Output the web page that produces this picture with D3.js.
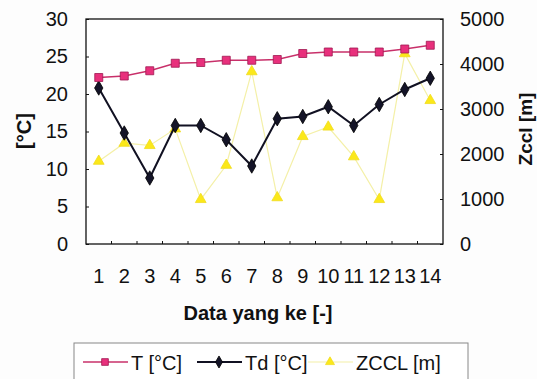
<!DOCTYPE html>
<html>
<head>
<meta charset="utf-8">
<script src="https://cdn.jsdelivr.net/npm/d3@7"></script>
<style>
  body { margin: 0; background: #fdfdfd; }
  svg { display: block; font-family: "Liberation Sans", Arial, sans-serif; }
  .axis path, .axis line { stroke: #111; }
  .axis text { font-size: 20px; fill: #111; }
</style>
</head>
<body>
<div id="display"></div>
<script>
// data
const categories = ['1','2','3','4','5','6','7','8','9','10','11','12','13','14'];
const tValues = [22.2, 22.4, 23.1, 24.1, 24.2, 24.5, 24.5, 24.6, 25.4, 25.6, 25.6, 25.6, 26.0, 26.5];
const tdValues = [20.8, 14.8, 8.8, 15.8, 15.8, 13.9, 10.4, 16.7, 17.0, 18.3, 15.8, 18.6, 20.6, 22.1];
const zcclValues = [1840, 2240, 2190, 2560, 990, 1750, 3830, 1030, 2390, 2600, 1940, 990, 4230, 3190];
const leftTicks = [0, 5, 10, 15, 20, 25, 30];
const rightTicks = [0, 1000, 2000, 3000, 4000, 5000];

const W = 537, H = 379;
const margin = {top: 19, right: 94, bottom: 135, left: 86};
const width = W - margin.left - margin.right;
const height = H - margin.top - margin.bottom;

const svg = d3.select('#display')
  .append('svg')
    .attr('width', W)
    .attr('height', H);

const g = svg.append('g')
  .attr('transform', 'translate(' + margin.left + ',' + margin.top + ')');

// scales
const x = d3.scaleBand().domain(categories).range([0, width]).padding(0);
const yL = d3.scaleLinear().domain([0, 30]).range([height, 0]);
const yR = d3.scaleLinear().domain([0, 5000]).range([height, 0]);
const cx = d => x(d) + x.bandwidth() / 2;

// frame
g.append('rect')
  .attr('width', width).attr('height', height)
  .attr('fill', '#fff').attr('stroke', '#111').attr('stroke-width', 1.3);

// left axis, ticks pointing in
g.append('g').attr('class', 'axis')
  .call(d3.axisLeft(yL).tickValues(leftTicks).tickSize(-3).tickPadding(18))
  .call(a => a.select('.domain').remove());

// right axis
g.append('g').attr('class', 'axis')
  .attr('transform', 'translate(' + width + ',0)')
  .call(d3.axisRight(yR).tickValues(rightTicks).tickSize(-3).tickPadding(17).tickFormat(d3.format('d')))
  .call(a => a.select('.domain').remove());

// bottom axis: labels centred, ticks on category boundaries
const xAxis = g.append('g').attr('class', 'axis')
  .attr('transform', 'translate(0,' + height + ')')
  .call(d3.axisBottom(x).tickSize(0).tickPadding(25));
xAxis.select('.domain').remove();
xAxis.selectAll('.bnd')
  .data(categories.slice(1))
  .join('line')
    .attr('x1', d => x(d)).attr('x2', d => x(d))
    .attr('y1', 0).attr('y2', -3)
    .attr('stroke', '#111');

// series
const series = [
  {name: 'T [°C]', values: tValues, y: yL, line: '#c8306a', width: 1.4, marker: 'square', fill: '#e8307c', mstroke: '#a01850'},
  {name: 'Td [°C]', values: tdValues, y: yL, line: '#111122', width: 2, marker: 'diamond', fill: '#141428', mstroke: '#000'},
  {name: 'ZCCL [m]', values: zcclValues, y: yR, line: '#f4f0a8', width: 1.2, marker: 'triangle', fill: '#fbe81a', mstroke: '#f0dc20'}
];
const symbolOf = {square: d3.symbolSquare, diamond: d3.symbolDiamond, triangle: d3.symbolTriangle};
const sizeOf = {square: 64, diamond: 60, triangle: 50};

// draw ZCCL first so the temperature lines sit on top
[series[2], series[1], series[0]].forEach(s => {
  const pts = categories.map((c, i) => [cx(c), s.y(s.values[i])]);
  g.append('path')
    .attr('d', d3.line()(pts))
    .attr('fill', 'none')
    .attr('stroke', s.line)
    .attr('stroke-width', s.width);
  g.append('g').selectAll('path')
    .data(pts)
    .join('path')
      .attr('transform', d => 'translate(' + d[0] + ',' + d[1] + ')')
      .attr('d', d3.symbol(symbolOf[s.marker], sizeOf[s.marker]))
      .attr('fill', s.fill)
      .attr('stroke', s.mstroke)
      .attr('stroke-width', 0.8);
});

// axis titles
svg.append('text')
  .attr('transform', 'translate(31,131) rotate(-90)')
  .attr('text-anchor', 'middle')
  .style('font-size', '20px').style('font-weight', 'bold').attr('fill', '#111')
  .text('[°C]');
svg.append('text')
  .attr('transform', 'translate(532,129) rotate(-90)')
  .attr('text-anchor', 'middle')
  .style('font-size', '19px').style('font-weight', 'bold').attr('fill', '#111')
  .text('Zccl [m]');
svg.append('text')
  .attr('x', 258).attr('y', 320)
  .attr('text-anchor', 'middle')
  .style('font-size', '20px').style('font-weight', 'bold').attr('fill', '#111')
  .text('Data yang ke [-]');

// legend
const legend = svg.append('g');
legend.append('rect')
  .attr('x', 74).attr('y', 343).attr('width', 394).attr('height', 50)
  .attr('fill', '#fff').attr('stroke', '#888').attr('stroke-width', 1);
const legX = [83, 197, 308];
series.forEach((s, i) => {
  const lx = legX[i], ly = 362;
  legend.append('line')
    .attr('x1', lx).attr('x2', lx + 45).attr('y1', ly).attr('y2', ly)
    .attr('stroke', s.line).attr('stroke-width', s.width);
  legend.append('path')
    .attr('transform', 'translate(' + (lx + 22) + ',' + ly + ')')
    .attr('d', d3.symbol(symbolOf[s.marker], sizeOf[s.marker] * 0.7))
    .attr('fill', s.fill).attr('stroke', s.mstroke).attr('stroke-width', 0.8);
  legend.append('text')
    .attr('x', lx + 48).attr('y', ly + 8)
    .style('font-size', '20px').attr('fill', '#111')
    .text(s.name);
});
</script>
</body>
</html>
